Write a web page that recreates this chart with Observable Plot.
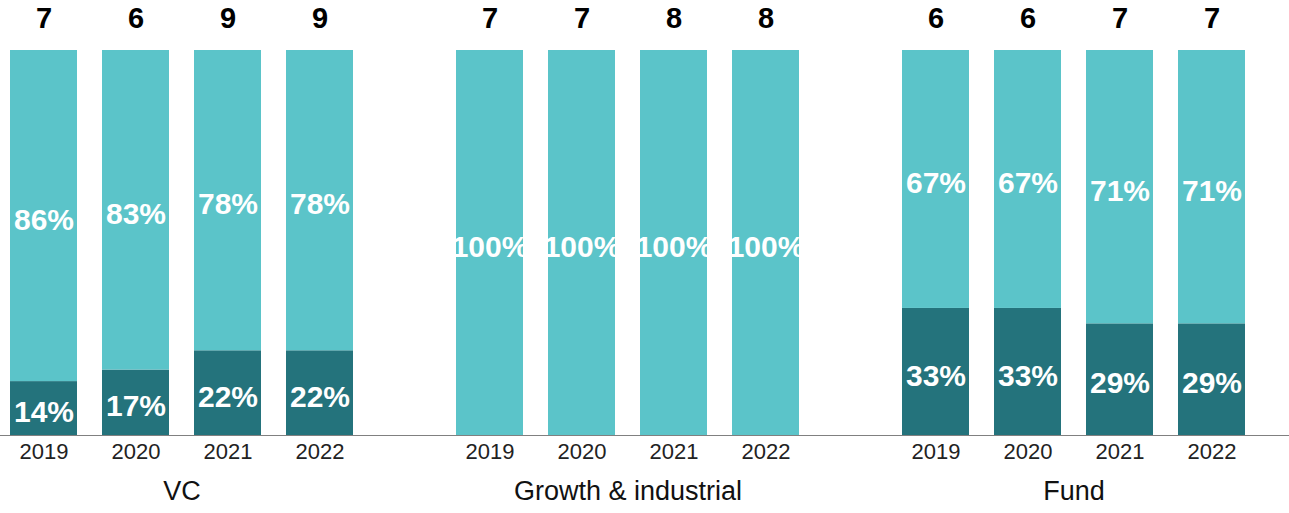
<!DOCTYPE html>
<html>
<head>
<meta charset="utf-8">
<script src="https://cdn.jsdelivr.net/npm/d3@7"></script>
<script src="https://cdn.jsdelivr.net/npm/@observablehq/plot@0.6"></script>
<style>
  html, body { margin: 0; padding: 0; background: #fff; }
  #chart svg { font-family: "Liberation Sans", Arial, sans-serif; }
</style>
</head>
<body>
<div id="chart"></div>
<script>
const groups = ["VC", "Growth & industrial", "Fund"];
const years = ["2019", "2020", "2021", "2022"];

const vcTotals = [7, 6, 9, 9];
const growthTotals = [7, 7, 8, 8];
const fundTotals = [6, 6, 7, 7];

// share (%) of the dark bottom segment
const vcDark = [14, 17, 22, 22];
const growthDark = [0, 0, 0, 0];
const fundDark = [33, 33, 29, 29];

// share (%) of the light top segment
const vcLight = [86, 83, 78, 78];
const growthLight = [100, 100, 100, 100];
const fundLight = [67, 67, 71, 71];

const totalsByGroup = [vcTotals, growthTotals, fundTotals];
const darkByGroup = [vcDark, growthDark, fundDark];
const lightByGroup = [vcLight, growthLight, fundLight];

const segments = [];
const totals = [];
groups.forEach((g, gi) => {
  years.forEach((y, yi) => {
    segments.push({group: g, year: y, segment: "dark", value: darkByGroup[gi][yi] / 100, label: darkByGroup[gi][yi] + "%"});
    segments.push({group: g, year: y, segment: "light", value: lightByGroup[gi][yi] / 100, label: lightByGroup[gi][yi] + "%"});
    totals.push({group: g, year: y, total: totalsByGroup[gi][yi]});
  });
});

const colors = {dark: "#24737c", light: "#5bc4c9"};
const labelled = segments.filter(d => d.value > 0);

const chart = Plot.plot({
  width: 1289,
  height: 513,
  marginLeft: 9,
  marginRight: 44,
  marginTop: 50,
  marginBottom: 78,
  style: {fontFamily: "Liberation Sans, Arial, sans-serif", background: "#fff"},
  fx: {domain: groups, padding: 0.232, label: null},
  x: {domain: years, paddingInner: 0.272, paddingOuter: 0, label: null},
  y: {domain: [0, 1], axis: null},
  color: {domain: ["dark", "light"], range: [colors.dark, colors.light]},
  marks: [
    Plot.barY(segments, Plot.stackY({fx: "group", x: "year", y: "value", fill: "segment"})),
    Plot.ruleY([0], {stroke: "#808080", strokeWidth: 1.5, insetLeft: -60, insetRight: -60, shapeRendering: "crispEdges"}),
    Plot.text(labelled, Plot.stackY({
      fx: "group", x: "year", y: "value", text: "label",
      fill: "white", fontSize: 30, fontWeight: "bold", dy: 4
    })),
    Plot.text(totals, {fx: "group", x: "year", y: () => 1, text: "total", fontSize: 29, fontWeight: "bold", fill: "#000", dy: -32}),
    Plot.axisX({tickSize: 0, tickPadding: 8, fontSize: 22, label: null, color: "#222"}),
    Plot.axisFx({anchor: "bottom", tickSize: 0, tickPadding: 45, fontSize: 27, label: null, color: "#111"})
  ]
});

document.getElementById("chart").appendChild(chart);
</script>
</body>
</html>
